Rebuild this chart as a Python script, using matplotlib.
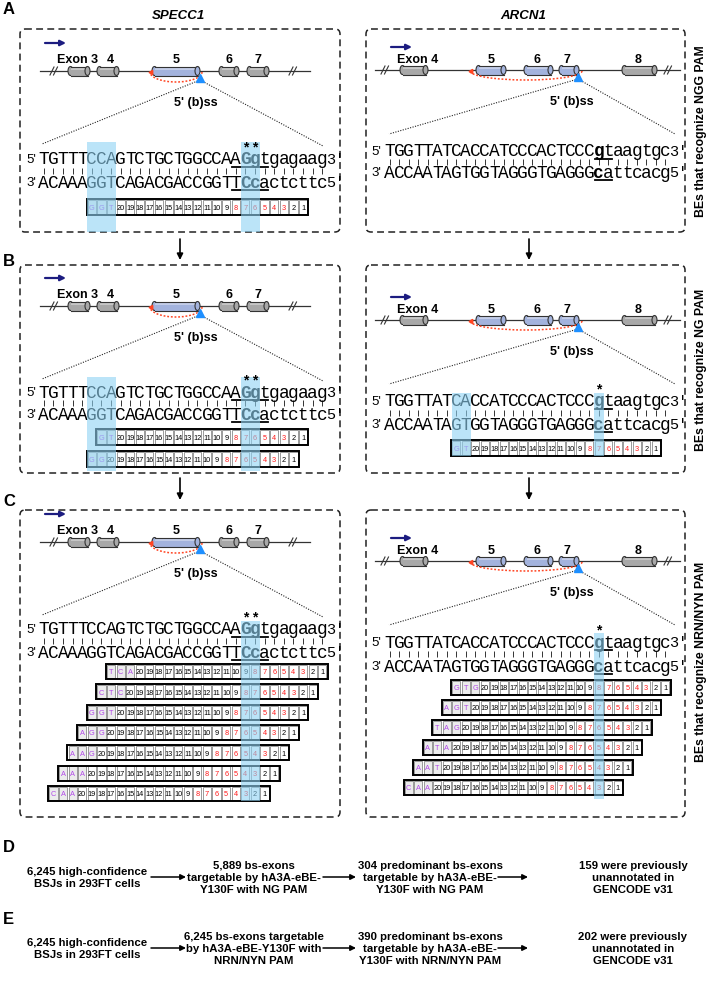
import matplotlib
matplotlib.use('Agg')
import matplotlib.pyplot as plt
from matplotlib.patches import Rectangle, Ellipse, Arc, FancyBboxPatch
from matplotlib import font_manager

names = {f.name for f in font_manager.fontManager.ttflist}
SANS = 'Liberation Sans'
NARROW = 'Liberation Sans Narrow' if 'Liberation Sans Narrow' in names else SANS
MONO = 'Liberation Mono'

# ---- data ----
specc1_top = 'TGTTTCCAGTCTGCTGGCCAAGgtgagaag'
specc1_bot = 'ACAAAGGTCAGACGACCGGTTCcactcttc'
arcn1_top = 'TGGTTATCACCATCCCACTCCCgtaagtgc'
arcn1_bot = 'ACCAATAGTGGTAGGGTGAGGGcattcacg'

spacer_numbers = list(range(20, 0, -1))
edit_window = [8, 7, 6, 5, 4, 3]

# PAM of each sgRNA row and the column where the row starts
specc1_ngg_pam, specc1_ngg_col = ['GGT'], [5]
specc1_ng_pam, specc1_ng_col = ['GT', 'GG'], [6, 5]
specc1_nrn_pam = ['TCA', 'CTC', 'GGT', 'AGG', 'AAG', 'AAA', 'CAA']
specc1_nrn_col = [7, 6, 5, 4, 3, 2, 1]
arcn1_ng_pam, arcn1_ng_col = ['GT'], [7]
arcn1_nrn_pam = ['GTG', 'AGT', 'TAG', 'ATA', 'AAT', 'CAA']
arcn1_nrn_col = [7, 6, 5, 4, 3, 2]

specc1_exons = ['Exon 3', '4', '5', '6', '7']
arcn1_exons = ['Exon 4', '5', '6', '7', '8']

side_labels = ['BEs that recognize NGG PAM', 'BEs that recognize NG PAM',
               'BEs that recognize NRN/NYN PAM']

flow_d = ['6,245 high-confidence\nBSJs in 293FT cells',
          '5,889 bs-exons\ntargetable by hA3A-eBE-\nY130F with NG PAM',
          '304 predominant bs-exons\ntargetable by hA3A-eBE-\nY130F with NG PAM',
          '159 were previously\nunannotated in\nGENCODE v31']
flow_e = ['6,245 high-confidence\nBSJs in 293FT cells',
          '6,245 bs-exons targetable\nby hA3A-eBE-Y130F with\nNRN/NYN PAM',
          '390 predominant bs-exons\ntargetable by hA3A-eBE-\nY130F with NRN/NYN PAM',
          '202 were previously\nunannotated in\nGENCODE v31']

# ---- figure ----
fig = plt.figure(figsize=(7.09, 9.87), dpi=100)
ax = fig.add_axes([0, 0, 1, 1])
ax.set_xlim(0, 709)
ax.set_ylim(987, 0)
ax.axis('off')

PURPLE = '#b048e8'
HL = '#8fd3f4'
GRAY = '#a8a8a8'
BLUE = '#a3b3dd'


def dashed_box(x0, y0, x1, y1):
    ax.add_patch(FancyBboxPatch((x0, y0), x1 - x0, y1 - y0,
                                boxstyle='round,pad=0,rounding_size=5',
                                fill=False, ec='#222222', lw=1.1,
                                ls=(0, (4.5, 2.8))))


def cylinder(x0, x1, y, fc, h=9):
    ax.add_patch(Ellipse((x0 + 2.5, y), 5, h, fc=fc, ec='#333333', lw=0.8, zorder=2))
    ax.add_patch(Rectangle((x0 + 2.5, y - h / 2), x1 - x0 - 5, h, fc=fc, ec='none', zorder=2))
    ax.add_patch(Rectangle((x0 + 2.5, y - h / 2 + 1.2), x1 - x0 - 5, 2.2, fc='white',
                           alpha=0.35, ec='none', zorder=2))
    ax.plot([x0 + 2.5, x1 - 2.5], [y - h / 2, y - h / 2], color='#333333', lw=0.8, zorder=2)
    ax.plot([x0 + 2.5, x1 - 2.5], [y + h / 2, y + h / 2], color='#333333', lw=0.8, zorder=2)
    ax.add_patch(Ellipse((x1 - 2.5, y), 5, h, fc=fc, ec='#333333', lw=0.8, zorder=2))


def gene(ly, line, breaks, exons, colors, labels, lab_x, lab_dy, arrow, arc, tri, bss, ends):
    ax.plot(line, [ly, ly], color='#333333', lw=0.9, zorder=1)
    for b in breaks:
        for dx in (-2, 1.5):
            ax.plot([b + dx - 2, b + dx + 2], [ly + 4, ly - 4], color='#333333', lw=0.8)
    for (a, b), c in zip(exons, colors):
        cylinder(a, b, ly, BLUE if c == 'b' else GRAY)
    for t, x in zip(labels, lab_x):
        ax.text(x, ly + lab_dy, t, family=SANS, weight='bold', size=9,
                ha='center', va='center')
    ax.annotate('', xy=(arrow[1], ly + arrow[2]), xytext=(arrow[0], ly + arrow[2]),
                arrowprops=dict(arrowstyle='-|>', color='#1c1c80', lw=1.6,
                                mutation_scale=8, shrinkA=0, shrinkB=0))
    xa, xb, depth = arc
    ax.add_patch(Arc(((xa + xb) / 2, ly + 1), xb - xa, 2 * depth, theta1=0, theta2=180,
                     color='#ff4422', lw=1.1, ls=(0, (1.2, 1.2)), zorder=3))
    ax.plot(xa + 1, ly + 1, marker=(3, 0, -30), color='#ff4422', ms=3.5, zorder=4)
    ax.plot(tri, ly + 7, marker='^', color='#1e8fff', ms=6, zorder=4)
    ax.text(bss, ly + 31, "5' (b)ss", family=SANS, weight='bold', size=9,
            ha='center', va='center')
    for ex, ey in ends:
        ax.plot([tri, ex], [ly + 9, ly + ey], color='#222222', lw=0.8, ls=(0, (1, 1.3)))


def strands(x0, w, yt, yb, top, bot, bold_t, ul_t, bold_b, ul_b, lab_x):
    for seq, y, bold, ul in ((top, yt, bold_t, ul_t), (bot, yb, bold_b, ul_b)):
        for i, c in enumerate(seq):
            ax.text(x0 + (i + 0.5) * w, y, c, family=MONO, size=12.8,
                    weight='bold' if i in bold else 'normal', ha='center', va='center')
        ax.plot([x0 + ul[0] * w + 1, x0 + (ul[-1] + 1) * w - 1], [y + 8, y + 8],
                color='k', lw=1.3)
    n = len(top)
    ym = (yt + yb) / 2
    ax.vlines([x0 + (i + 0.5) * w for i in range(n)], ym - 3, ym + 3, color='#333333', lw=0.7)
    ax.text(lab_x, yt, "5'", family=SANS, size=9.5, ha='center', va='center')
    ax.text(lab_x, yb, "3'", family=SANS, size=9.5, ha='center', va='center')
    ax.text(x0 + n * w - 1, yt, "3'", family=MONO, size=11, ha='left', va='center')
    ax.text(x0 + n * w - 1, yb, "5'", family=MONO, size=11, ha='left', va='center')


def highlight(x0, w, cols, y0, y1):
    ax.add_patch(Rectangle((x0 + cols[0] * w, y0), len(cols) * w, y1 - y0,
                           fc=HL, alpha=0.6, ec='none', zorder=6))


def stars(x0, w, cols, y):
    for c in cols:
        ax.text(x0 + (c + 0.5) * w, y, '*', family=SANS, weight='bold', size=10,
                ha='center', va='center', zorder=7)


def cell_row(x0, w, col, y, h, pam):
    labs = list(pam) + [str(n) for n in spacer_numbers]
    for k, lab in enumerate(labs):
        cx = x0 + (col + k) * w
        ax.add_patch(Rectangle((cx + 0.7, y + 0.9), w - 1.4, h - 1.8,
                               fc='#ececec' if k < len(pam) else 'white',
                               ec='#8a8a8a', lw=0.6, zorder=3))
        if k < len(pam):
            color = PURPLE
        else:
            color = '#ff1a1a' if int(lab) in edit_window else 'black'
        ax.text(cx + w / 2, y + h / 2 + 0.3, lab, family=NARROW, size=5.3, color=color,
                ha='center', va='center', zorder=4)
    ax.add_patch(Rectangle((x0 + col * w - 0.5, y), len(labs) * w + 1, h, fill=False,
                           ec='k', lw=1.4, zorder=4))


# ---- panel letters, titles ----
for t, y in zip('ABC', (10, 262, 502)):
    ax.text(3, y, t, family=SANS, weight='bold', size=12, ha='left', va='center')
ax.text(178, 16, 'SPECC1', family=SANS, weight='bold', style='italic', size=9.5,
        ha='center', va='center')
ax.text(523, 16, 'ARCN1', family=SANS, weight='bold', style='italic', size=9.5,
        ha='center', va='center')

# ---- boxes ----
for y0, y1 in ((30, 233), (266, 474), (511, 818)):
    dashed_box(20, y0, 340, y1)
    dashed_box(366, y0, 685, y1)
for xa in (180, 529):
    for ya, yb in ((240, 261), (479, 501)):
        ax.annotate('', xy=(xa, yb), xytext=(xa, ya),
                    arrowprops=dict(arrowstyle='-|>', color='k', lw=1.2,
                                    mutation_scale=9, shrinkA=0, shrinkB=0))
for t, y in zip(side_labels, (131, 370, 662)):
    ax.text(701, y, t, family=SANS, weight='bold', size=8.8, rotation=90,
            ha='center', va='center')

# ---- SPECC1 (left) ----
LX0, LW = 39, 9.6
left_exons = [(68, 90), (97, 119), (152, 200), (219, 239), (247, 269)]
left_colors = ['g', 'g', 'b', 'g', 'g']
for ly in (72, 307, 543):
    gene(ly, (40, 310), (54, 293), left_exons, left_colors, specc1_exons,
         (78, 110, 176, 229, 258), -12, (45, 66, -28), (150, 202, 10), 200, 196,
         ((42, 73), (323, 75)))

for yt, yb in ((160, 183), (393, 415), (630, 653)):
    strands(LX0, LW, yt, yb, specc1_top, specc1_bot, (21, 22), (20, 21, 22, 23),
            (21, 22), (20, 21, 22, 23), 31)
    stars(LX0, LW, (21, 22), yt - 13)

for col, pam in zip(specc1_ngg_col, specc1_ngg_pam):
    cell_row(LX0, LW, col, 200, 16, pam)
for i, (col, pam) in enumerate(zip(specc1_ng_col, specc1_ng_pam)):
    cell_row(LX0, LW, col, 430 + 22 * i, 16, pam)
for i, (col, pam) in enumerate(zip(specc1_nrn_col, specc1_nrn_pam)):
    cell_row(LX0, LW, col, 665 + 20.3 * i, 15, pam)

highlight(LX0, LW, (5, 6, 7), 143, 233)
highlight(LX0, LW, (21, 22), 143, 233)
highlight(LX0, LW, (5, 6, 7), 378, 472)
highlight(LX0, LW, (21, 22), 378, 472)
highlight(LX0, LW, (21, 22), 622, 802)

# ---- ARCN1 (right) ----
RX0, RW = 385, 9.5
right_exons = [(400, 428), (476, 506), (524, 553), (559, 579), (622, 657)]
right_colors = ['g', 'b', 'b', 'b', 'g']
for ly in (71, 321, 562):
    gene(ly, (375, 680), (385, 668), right_exons, right_colors, arcn1_exons,
         (418, 491, 537, 567, 638), -11, (391, 412, -23), (470, 582, 9), 578, 572,
         ((389, 64), (675, 64)))

for yt, yb in ((152, 173), (402, 425), (643, 667)):
    strands(RX0, RW, yt, yb, arcn1_top, arcn1_bot, (22,), (22, 23), (22,), (22, 23), 376)
stars(RX0, RW, (22,), 389)
stars(RX0, RW, (22,), 630)

for col, pam in zip(arcn1_ng_col, arcn1_ng_pam):
    cell_row(RX0, RW, col, 441, 16, pam)
for i, (col, pam) in enumerate(zip(arcn1_nrn_col, arcn1_nrn_pam)):
    cell_row(RX0, RW, col, 681 + 20 * i, 15, pam)

highlight(RX0, RW, (7, 8), 394, 457)
highlight(RX0, RW, (22,), 394, 457)
highlight(RX0, RW, (22,), 634, 800)

# ---- D / E flow ----
col_x = [87, 254, 430, 633]
arrows_x = [(151, 186), (323, 356), (498, 528)]
for lab, texts, ly, cy in (('D', flow_d, 848, 878), ('E', flow_e, 919, 949)):
    ax.text(3, ly, lab, family=SANS, weight='bold', size=12, ha='left', va='center')
    for x, t in zip(col_x, texts):
        ax.text(x, cy, t, family=NARROW, weight='bold', size=8.2, ha='center',
                va='center', linespacing=1.3)
    for xa, xb in arrows_x:
        ax.annotate('', xy=(xb, cy), xytext=(xa, cy),
                    arrowprops=dict(arrowstyle='-|>', color='k', lw=1.1,
                                    mutation_scale=8, shrinkA=0, shrinkB=0))

fig.savefig('out.png', dpi=100)
